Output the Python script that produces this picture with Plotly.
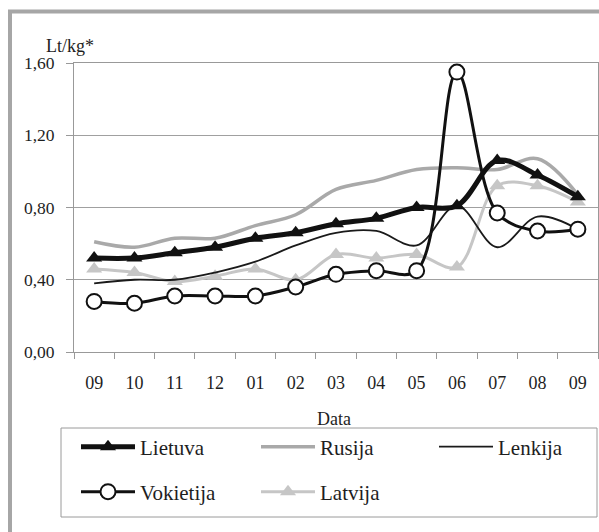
import plotly.graph_objects as go

categories = ["09a", "10", "11", "12", "01", "02", "03", "04", "05", "06", "07", "08", "09b"]
tick_labels = ["09", "10", "11", "12", "01", "02", "03", "04", "05", "06", "07", "08", "09"]

lietuva = [0.52, 0.52, 0.55, 0.58, 0.63, 0.66, 0.71, 0.74, 0.80, 0.81, 1.06, 0.98, 0.86]
rusija = [0.61, 0.58, 0.63, 0.63, 0.70, 0.76, 0.90, 0.95, 1.01, 1.02, 1.01, 1.07, 0.87]
lenkija = [0.38, 0.40, 0.40, 0.44, 0.50, 0.59, 0.66, 0.67, 0.59, 0.81, 0.58, 0.75, 0.68]
vokietija = [0.28, 0.27, 0.31, 0.31, 0.31, 0.36, 0.43, 0.45, 0.45, 1.55, 0.77, 0.67, 0.68]
latvija = [0.46, 0.44, 0.39, 0.42, 0.46, 0.40, 0.54, 0.52, 0.54, 0.47, 0.92, 0.92, 0.83]

FONT = "Liberation Serif, Times New Roman, serif"
TXT = "#1e1e1e"
SM = 1.0

fig = go.Figure()

fig.add_trace(go.Scatter(x=categories, y=rusija, name="Rusija", mode="lines",
                         line=dict(color="#a9a9a9", width=3.5, shape="spline", smoothing=SM),
                         legend="legend2"))
fig.add_trace(go.Scatter(x=categories, y=latvija, name="Latvija", mode="lines+markers",
                         line=dict(color="#c6c6c6", width=3, shape="spline", smoothing=SM),
                         marker=dict(symbol="triangle-up", size=14, color="#c6c6c6"),
                         legend="legend5"))
fig.add_trace(go.Scatter(x=categories, y=lenkija, name="Lenkija", mode="lines",
                         line=dict(color="#1a1a1a", width=1.8, shape="spline", smoothing=SM),
                         legend="legend3"))
fig.add_trace(go.Scatter(x=categories, y=lietuva, name="Lietuva", mode="lines+markers",
                         line=dict(color="#111111", width=5, shape="spline", smoothing=SM),
                         marker=dict(symbol="triangle-up", size=14, color="#111111"),
                         legend="legend"))
fig.add_trace(go.Scatter(x=categories, y=vokietija, name="Vokietija", mode="lines+markers",
                         line=dict(color="#111111", width=3, shape="spline", smoothing=SM),
                         marker=dict(symbol="circle", size=15, color="white",
                                     line=dict(color="#111111", width=2)),
                         legend="legend4"))

W, H = 599, 532
L, R, T, B = 74, 1, 63, 180
pw, ph = W - L - R, H - T - B


def px(x):
    return (x - L) / pw


def py(y):
    return (H - B - y) / ph


def leg(x, y):
    return dict(orientation="h", x=px(x), xanchor="left", y=py(y), yanchor="middle",
                itemwidth=54, borderwidth=0, bgcolor="rgba(0,0,0,0)",
                font=dict(size=21, family=FONT, color=TXT))


fig.update_layout(
    width=W, height=H,
    margin=dict(l=L, r=R, t=T, b=B),
    paper_bgcolor="white", plot_bgcolor="white",
    separators=",.",
    font=dict(family=FONT, color=TXT, size=17.5),
    showlegend=True,
    legend=leg(76, 447),
    legend2=leg(256, 447),
    legend3=leg(434, 447),
    legend4=leg(76, 492),
    legend5=leg(256, 492),
    xaxis=dict(type="category", tickvals=categories, ticktext=tick_labels,
               tickson="boundaries", ticks="outside", ticklen=6, tickcolor="#999",
               showline=True, linecolor="#999", linewidth=1, mirror=True,
               showgrid=False, tickfont=dict(size=18, family=FONT, color=TXT),
               ticklabelstandoff=14, range=[-0.5, 12.5]),
    yaxis=dict(range=[0, 1.6], tickvals=[0, 0.4, 0.8, 1.2, 1.6], tickformat=".2f",
               ticks="outside", ticklen=7, tickcolor="#999",
               showline=True, linecolor="#999", linewidth=1, mirror=True,
               showgrid=True, gridcolor="#a0a0a0", gridwidth=1, zeroline=False,
               tickfont=dict(size=17.5, family=FONT, color=TXT), ticklabelstandoff=8),
    shapes=[
        dict(type="rect", xref="paper", yref="paper", x0=px(10), x1=px(660), y0=py(600), y1=py(11.5),
             line=dict(color="#a6a6a6", width=4), fillcolor="rgba(0,0,0,0)", layer="below"),
        dict(type="rect", xref="paper", yref="paper", x0=px(61), x1=px(597), y0=py(517), y1=py(428),
             line=dict(color="#9a9a9a", width=1), fillcolor="rgba(0,0,0,0)", layer="below"),
    ],
    annotations=[
        dict(text="Lt/kg*", xref="paper", yref="paper", x=px(70), y=py(46), showarrow=False,
             xanchor="center", yanchor="middle", font=dict(size=18, family=FONT, color=TXT)),
        dict(text="Data", xref="paper", yref="paper", x=px(334), y=py(419), showarrow=False,
             xanchor="center", yanchor="middle", font=dict(size=18, family=FONT, color=TXT)),
    ],
)

fig.write_html("out.html", config={"displayModeBar": False},
               post_script="document.body.style.margin='0';")
